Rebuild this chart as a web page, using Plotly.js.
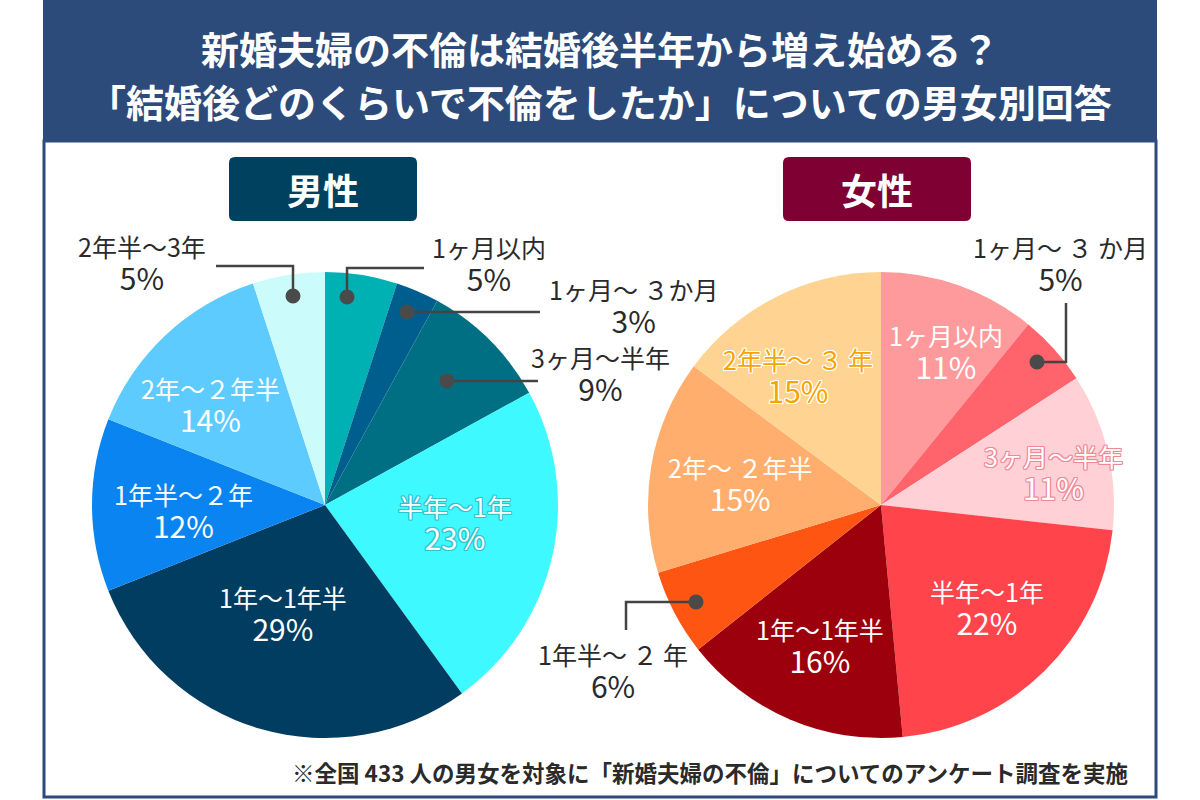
<!DOCTYPE html>
<html>
<head>
<meta charset="utf-8">
<script src="https://cdn.plot.ly/plotly-3.0.1.min.js"></script>
<style>html,body{margin:0;padding:0;background:#fff;}#chart{width:1200px;height:800px;}</style>
</head>
<body>
<div id="chart"></div>
<script>
// ---- data ----
const titleLine1 = '新婚夫婦の不倫は結婚後半年から増え始める？';
const titleLine2 = '「結婚後どのくらいで不倫をしたか」についての男女別回答';
const groupNames = ['男性', '女性'];
const maleLabels = ['1ヶ月以内', '1ヶ月～ ３か月', '3ヶ月～半年', '半年～1年', '1年～1年半', '1年半～２年', '2年～２年半', '2年半～3年'];
const maleValues = [5, 3, 9, 23, 29, 12, 14, 5];
const femaleLabels = ['1ヶ月以内', '1ヶ月～ ３ か月', '3ヶ月～半年', '半年～1年', '1年～1年半', '1年半～ ２ 年', '2年～ ２年半', '2年半～ ３ 年'];
const femaleValues = [11, 5, 11, 22, 16, 6, 15, 15];
const footnote = '※全国 433 人の男女を対象に「新婚夫婦の不倫」についてのアンケート調査を実施';

// ---- styles ----
const FONT = '"Noto Sans CJK JP", "Noto Sans", sans-serif';
const NAVY = '#2c4b7a';
const maleColors = ['#00b1b4', '#005e8e', '#006f84', '#3ef9ff', '#003d60', '#0a84f0', '#5ecbff', '#cbfcfb'];
const femaleColors = ['#ff9a9c', '#ff636b', '#ffd0d5', '#ff444c', '#9c000c', '#ff5512', '#ffae6e', '#ffd492'];
const W = 1200, H = 800;
const px = x => x / W;
const py = y => 1 - y / H;
function path(pts) {
  return pts.map((p, i) => (i ? 'L' : 'M') + px(p[0]).toFixed(5) + ',' + py(p[1]).toFixed(5)).join(' ');
}
function outline(c) {
  return `-1px -1px 0 ${c}, 1px -1px 0 ${c}, -1px 1px 0 ${c}, 1px 1px 0 ${c}, 0 1px 0 ${c}, 0 -1px 0 ${c}, 1px 0 0 ${c}, -1px 0 0 ${c}`;
}

// label placement (pixel centres) — outside labels have leaders, inside labels sit on the slice
const maleLabelPos = {0: [489, 264], 1: [633, 306], 2: [600, 374], 3: [455, 523], 4: [283, 614], 5: [183, 511], 6: [210, 405], 7: [142, 263]};
const femaleLabelPos = {0: [946, 353], 1: [1060, 264], 2: [1053, 473], 3: [987, 608], 4: [820, 646], 5: [613, 671], 6: [740, 485], 7: [798, 376]};
const maleOutside = [0, 1, 2, 7];
const femaleOutside = [1, 5];
const maleInStyle = {3: {color: '#ffffff', shadow: outline('#2fc4cc')}};
const femaleInStyle = {2: {color: '#ffffff', shadow: outline('#f08896')}, 7: {color: '#f7a400', shadow: outline('#ffffff')}};

const traces = [
  {
    type: 'pie', labels: maleLabels, values: maleValues, sort: false, direction: 'clockwise', rotation: 0,
    marker: {colors: maleColors, line: {width: 0}},
    domain: {x: [px(92), px(558)], y: [py(738), py(272)]},
    textinfo: 'none', hoverinfo: 'label+value', showlegend: false
  },
  {
    type: 'pie', labels: femaleLabels, values: femaleValues, sort: false, direction: 'clockwise', rotation: 0,
    marker: {colors: femaleColors, line: {width: 0}},
    domain: {x: [px(648), px(1114)], y: [py(738), py(272)]},
    textinfo: 'none', hoverinfo: 'label+value', showlegend: false
  }
];

const shapes = [
  {type: 'rect', xref: 'paper', yref: 'paper', x0: px(43), x1: px(1157), y0: py(141), y1: 1, fillcolor: NAVY, line: {width: 0}, layer: 'below'},
  {type: 'rect', xref: 'paper', yref: 'paper', x0: px(44), x1: px(1156), y0: py(797), y1: py(141), fillcolor: 'rgba(0,0,0,0)', line: {color: NAVY, width: 3}, layer: 'below'}
];
function roundRect(x0, y0, x1, y1, r) {
  const a = (x, y) => px(x).toFixed(5) + ',' + py(y).toFixed(5);
  return `M${a(x0 + r, y0)} L${a(x1 - r, y0)} Q${a(x1, y0)} ${a(x1, y0 + r)} L${a(x1, y1 - r)} Q${a(x1, y1)} ${a(x1 - r, y1)} L${a(x0 + r, y1)} Q${a(x0, y1)} ${a(x0, y1 - r)} L${a(x0, y0 + r)} Q${a(x0, y0)} ${a(x0 + r, y0)} Z`;
}
shapes.push({type: 'path', xref: 'paper', yref: 'paper', path: roundRect(229, 157, 417, 221, 6), fillcolor: '#00415f', line: {width: 0}});
shapes.push({type: 'path', xref: 'paper', yref: 'paper', path: roundRect(783, 157, 971, 221, 6), fillcolor: '#7f0033', line: {width: 0}});

const leaders = [
  {pts: [[216, 266], [293, 266], [293, 296]], dot: [293, 296]},
  {pts: [[424, 268], [347, 268], [347, 297]], dot: [347, 297]},
  {pts: [[540, 312], [407, 312]], dot: [407, 312]},
  {pts: [[538, 381], [447, 381]], dot: [447, 381]},
  {pts: [[1066, 303], [1066, 362], [1037, 362]], dot: [1037, 362]},
  {pts: [[626, 630], [626, 602], [696, 602]], dot: [696, 602]}
];
leaders.forEach(l => {
  shapes.push({type: 'path', xref: 'paper', yref: 'paper', path: path(l.pts), line: {color: '#444444', width: 2.5}});
  const r = 7.5;
  shapes.push({type: 'circle', xref: 'paper', yref: 'paper', x0: px(l.dot[0] - r), x1: px(l.dot[0] + r), y0: py(l.dot[1] + r), y1: py(l.dot[1] - r), fillcolor: '#4a4a4a', line: {width: 0}});
});

const annotations = [];
annotations.push({xref: 'paper', yref: 'paper', x: 0.5, y: py(101), xanchor: 'center', yanchor: 'middle', showarrow: false,
  text: titleLine2, font: {family: FONT, size: 38, color: '#ffffff', weight: 700}});
annotations.push({xref: 'paper', yref: 'paper', x: px(323), y: py(189), xanchor: 'center', yanchor: 'middle', showarrow: false,
  text: groupNames[0], font: {family: FONT, size: 36, color: '#ffffff', weight: 700}});
annotations.push({xref: 'paper', yref: 'paper', x: px(877), y: py(189), xanchor: 'center', yanchor: 'middle', showarrow: false,
  text: groupNames[1], font: {family: FONT, size: 36, color: '#ffffff', weight: 700}});

function sliceLabel(label, value, pos, outside, style) {
  const font = {family: FONT, size: 25, color: outside ? '#2a2a2a' : '#ffffff'};
  if (style) { font.color = style.color; font.shadow = style.shadow; }
  annotations.push({xref: 'paper', yref: 'paper', x: px(pos[0]), y: py(pos[1]), xanchor: 'center', yanchor: 'middle', showarrow: false, align: 'center',
    text: label + '<br><span style="font-size:30px">' + value + '%</span>', font: font});
}
maleLabels.forEach((lab, i) => sliceLabel(lab, maleValues[i], maleLabelPos[i], maleOutside.includes(i), maleInStyle[i]));
femaleLabels.forEach((lab, i) => sliceLabel(lab, femaleValues[i], femaleLabelPos[i], femaleOutside.includes(i), femaleInStyle[i]));

annotations.push({xref: 'paper', yref: 'paper', x: px(1130), y: py(772), xanchor: 'right', yanchor: 'middle', showarrow: false,
  text: footnote, font: {family: FONT, size: 22.5, color: '#2a2a2a', weight: 700}});

const layout = {
  width: W, height: H, margin: {l: 0, r: 0, t: 0, b: 0},
  paper_bgcolor: '#ffffff', plot_bgcolor: '#ffffff', showlegend: false,
  title: {text: titleLine1, x: 0.5, xanchor: 'center', y: py(51), yanchor: 'middle', yref: 'container',
    font: {family: FONT, size: 38, color: '#ffffff', weight: 700}},
  shapes: shapes, annotations: annotations
};
Plotly.newPlot('chart', traces, layout, {displayModeBar: false, staticPlot: true});
</script>
</body>
</html>
